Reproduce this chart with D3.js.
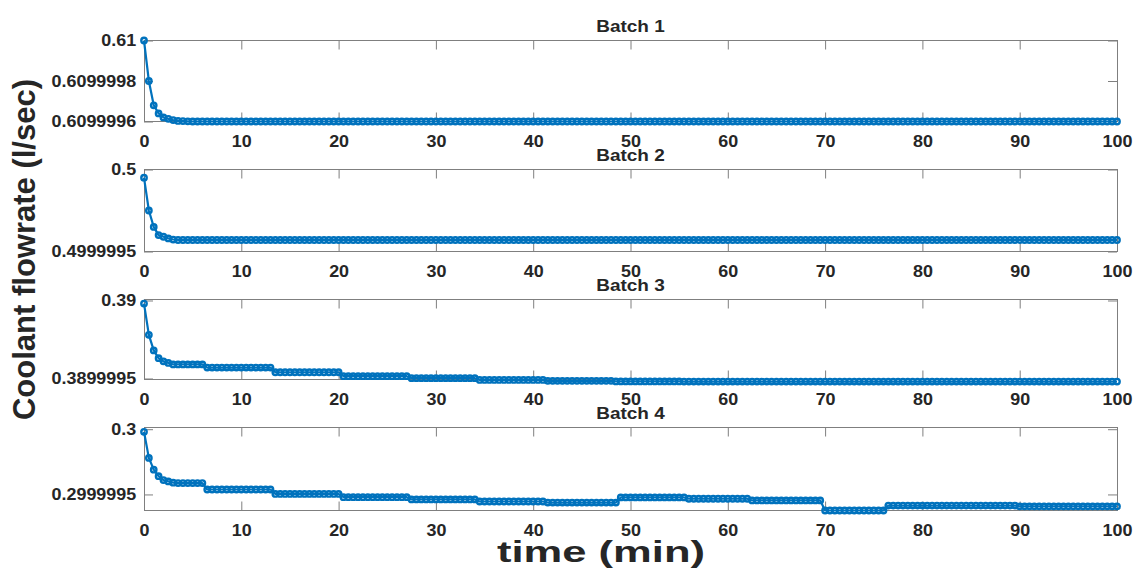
<!DOCTYPE html>
<html><head><meta charset="utf-8">
<script src="https://cdn.jsdelivr.net/npm/d3@7"></script>
<style>
body{margin:0;background:#fff}
svg{display:block}
text{font-family:"Liberation Sans",Arial,sans-serif;font-weight:bold;fill:#262626}
</style>
</head><body>
<svg id="chart" width="1133" height="570"></svg>
<script>
// ---------------- data ----------------
const titles = ["Batch 1", "Batch 2", "Batch 3", "Batch 4"];
const xLabel = "time (min)";
const yLabel = "Coolant flowrate (l/sec)";
const xTicks = [0, 10, 20, 30, 40, 50, 60, 70, 80, 90, 100];
const xTickLabels = ["0", "10", "20", "30", "40", "50", "60", "70", "80", "90", "100"];
const yTicks1 = [0.6099996, 0.6099998, 0.61];
const yTickLabels1 = ["0.6099996", "0.6099998", "0.61"];
const yTicks2 = [0.4999995, 0.5];
const yTickLabels2 = ["0.4999995", "0.5"];
const yTicks3 = [0.3899995, 0.39];
const yTickLabels3 = ["0.3899995", "0.39"];
const yTicks4 = [0.2999995, 0.3];
const yTickLabels4 = ["0.2999995", "0.3"];
const yLimits1 = [0.6099996, 0.61];
const yLimits2 = [0.4999995, 0.5];
const yLimits3 = [0.3899994936, 0.3900000064];
const yLimits4 = [0.2999993769, 0.3000000131];

// sampling times: every 0.5 min from 0 to 100
const times = d3.range(0, 100.25, 0.5);

const batch1 = [
0.61,0.6099998,0.60999968,0.60999964,0.60999962,0.609999613,0.609999607,0.609999603,0.609999602,0.609999601,
0.6099996,0.6099996,0.6099996,0.6099996,0.6099996,0.6099996,0.6099996,0.6099996,0.6099996,0.6099996,
0.6099996,0.6099996,0.6099996,0.6099996,0.6099996,0.6099996,0.6099996,0.6099996,0.6099996,0.6099996,
0.6099996,0.6099996,0.6099996,0.6099996,0.6099996,0.6099996,0.6099996,0.6099996,0.6099996,0.6099996,
0.6099996,0.6099996,0.6099996,0.6099996,0.6099996,0.6099996,0.6099996,0.6099996,0.6099996,0.6099996,
0.6099996,0.6099996,0.6099996,0.6099996,0.6099996,0.6099996,0.6099996,0.6099996,0.6099996,0.6099996,
0.6099996,0.6099996,0.6099996,0.6099996,0.6099996,0.6099996,0.6099996,0.6099996,0.6099996,0.6099996,
0.6099996,0.6099996,0.6099996,0.6099996,0.6099996,0.6099996,0.6099996,0.6099996,0.6099996,0.6099996,
0.6099996,0.6099996,0.6099996,0.6099996,0.6099996,0.6099996,0.6099996,0.6099996,0.6099996,0.6099996,
0.6099996,0.6099996,0.6099996,0.6099996,0.6099996,0.6099996,0.6099996,0.6099996,0.6099996,0.6099996,
0.6099996,0.6099996,0.6099996,0.6099996,0.6099996,0.6099996,0.6099996,0.6099996,0.6099996,0.6099996,
0.6099996,0.6099996,0.6099996,0.6099996,0.6099996,0.6099996,0.6099996,0.6099996,0.6099996,0.6099996,
0.6099996,0.6099996,0.6099996,0.6099996,0.6099996,0.6099996,0.6099996,0.6099996,0.6099996,0.6099996,
0.6099996,0.6099996,0.6099996,0.6099996,0.6099996,0.6099996,0.6099996,0.6099996,0.6099996,0.6099996,
0.6099996,0.6099996,0.6099996,0.6099996,0.6099996,0.6099996,0.6099996,0.6099996,0.6099996,0.6099996,
0.6099996,0.6099996,0.6099996,0.6099996,0.6099996,0.6099996,0.6099996,0.6099996,0.6099996,0.6099996,
0.6099996,0.6099996,0.6099996,0.6099996,0.6099996,0.6099996,0.6099996,0.6099996,0.6099996,0.6099996,
0.6099996,0.6099996,0.6099996,0.6099996,0.6099996,0.6099996,0.6099996,0.6099996,0.6099996,0.6099996,
0.6099996,0.6099996,0.6099996,0.6099996,0.6099996,0.6099996,0.6099996,0.6099996,0.6099996,0.6099996,
0.6099996,0.6099996,0.6099996,0.6099996,0.6099996,0.6099996,0.6099996,0.6099996,0.6099996,0.6099996,
0.6099996
];

const batch2 = [
0.49999995,0.49999975,0.49999965,0.4999996,0.49999959,0.49999958,0.499999573,0.49999957,0.49999957,0.49999957,
0.49999957,0.49999957,0.49999957,0.49999957,0.49999957,0.49999957,0.49999957,0.49999957,0.49999957,0.49999957,
0.49999957,0.49999957,0.49999957,0.49999957,0.49999957,0.49999957,0.49999957,0.49999957,0.49999957,0.49999957,
0.49999957,0.49999957,0.49999957,0.49999957,0.49999957,0.49999957,0.49999957,0.49999957,0.49999957,0.49999957,
0.49999957,0.49999957,0.49999957,0.49999957,0.49999957,0.49999957,0.49999957,0.49999957,0.49999957,0.49999957,
0.49999957,0.49999957,0.49999957,0.49999957,0.49999957,0.49999957,0.49999957,0.49999957,0.49999957,0.49999957,
0.49999957,0.49999957,0.49999957,0.49999957,0.49999957,0.49999957,0.49999957,0.49999957,0.49999957,0.49999957,
0.49999957,0.49999957,0.49999957,0.49999957,0.49999957,0.49999957,0.49999957,0.49999957,0.49999957,0.49999957,
0.49999957,0.49999957,0.49999957,0.49999957,0.49999957,0.49999957,0.49999957,0.49999957,0.49999957,0.49999957,
0.49999957,0.49999957,0.49999957,0.49999957,0.49999957,0.49999957,0.49999957,0.49999957,0.49999957,0.49999957,
0.49999957,0.49999957,0.49999957,0.49999957,0.49999957,0.49999957,0.49999957,0.49999957,0.49999957,0.49999957,
0.49999957,0.49999957,0.49999957,0.49999957,0.49999957,0.49999957,0.49999957,0.49999957,0.49999957,0.49999957,
0.49999957,0.49999957,0.49999957,0.49999957,0.49999957,0.49999957,0.49999957,0.49999957,0.49999957,0.49999957,
0.49999957,0.49999957,0.49999957,0.49999957,0.49999957,0.49999957,0.49999957,0.49999957,0.49999957,0.49999957,
0.49999957,0.49999957,0.49999957,0.49999957,0.49999957,0.49999957,0.49999957,0.49999957,0.49999957,0.49999957,
0.49999957,0.49999957,0.49999957,0.49999957,0.49999957,0.49999957,0.49999957,0.49999957,0.49999957,0.49999957,
0.49999957,0.49999957,0.49999957,0.49999957,0.49999957,0.49999957,0.49999957,0.49999957,0.49999957,0.49999957,
0.49999957,0.49999957,0.49999957,0.49999957,0.49999957,0.49999957,0.49999957,0.49999957,0.49999957,0.49999957,
0.49999957,0.49999957,0.49999957,0.49999957,0.49999957,0.49999957,0.49999957,0.49999957,0.49999957,0.49999957,
0.49999957,0.49999957,0.49999957,0.49999957,0.49999957,0.49999957,0.49999957,0.49999957,0.49999957,0.49999957,
0.49999957
];

const batch3 = [
0.38999998,0.38999978,0.38999968,0.38999963,0.38999961,0.3899996,0.38999959,0.38999959,0.38999959,0.38999959,
0.38999959,0.38999959,0.38999959,0.38999957,0.38999957,0.38999957,0.38999957,0.38999957,0.38999957,0.38999957,
0.38999957,0.38999957,0.38999957,0.38999957,0.38999957,0.38999957,0.38999957,0.38999954,0.38999954,0.38999954,
0.38999954,0.38999954,0.38999954,0.38999954,0.38999954,0.38999954,0.38999954,0.38999954,0.38999954,0.38999954,
0.38999954,0.389999515,0.389999515,0.389999515,0.389999515,0.389999515,0.389999515,0.389999515,0.389999515,0.389999515,
0.389999515,0.389999515,0.389999515,0.389999515,0.389999515,0.389999502,0.389999502,0.389999502,0.389999502,0.389999502,
0.389999502,0.389999502,0.389999502,0.389999502,0.389999502,0.389999502,0.389999502,0.389999502,0.389999502,0.389999491,
0.389999491,0.389999491,0.389999491,0.389999491,0.389999491,0.389999491,0.389999491,0.389999491,0.389999491,0.389999491,
0.389999491,0.389999491,0.389999491,0.389999485,0.389999485,0.389999485,0.389999485,0.389999485,0.389999485,0.389999485,
0.389999485,0.389999485,0.389999485,0.389999485,0.389999485,0.389999485,0.389999485,0.389999481,0.389999481,0.389999481,
0.389999481,0.389999481,0.389999481,0.389999481,0.389999481,0.389999481,0.389999481,0.389999481,0.389999481,0.389999481,
0.389999481,0.38999948,0.38999948,0.38999948,0.38999948,0.38999948,0.38999948,0.38999948,0.38999948,0.38999948,
0.38999948,0.38999948,0.38999948,0.38999948,0.38999948,0.38999948,0.38999948,0.38999948,0.38999948,0.38999948,
0.38999948,0.38999948,0.38999948,0.38999948,0.38999948,0.38999948,0.38999948,0.38999948,0.38999948,0.38999948,
0.38999948,0.38999948,0.38999948,0.38999948,0.38999948,0.38999948,0.38999948,0.38999948,0.38999948,0.38999948,
0.38999948,0.38999948,0.38999948,0.38999948,0.38999948,0.38999948,0.38999948,0.38999948,0.38999948,0.38999948,
0.38999948,0.38999948,0.38999948,0.38999948,0.38999948,0.38999948,0.38999948,0.38999948,0.38999948,0.38999948,
0.38999948,0.38999948,0.38999948,0.38999948,0.38999948,0.38999948,0.38999948,0.38999948,0.38999948,0.38999948,
0.38999948,0.38999948,0.38999948,0.38999948,0.38999948,0.38999948,0.38999948,0.38999948,0.38999948,0.38999948,
0.38999948,0.38999948,0.38999948,0.38999948,0.38999948,0.38999948,0.38999948,0.38999948,0.38999948,0.38999948,
0.38999948
];

const batch4 = [
0.29999998,0.29999978,0.29999969,0.29999964,0.29999961,0.2999996,0.29999959,0.299999587,0.299999587,0.299999587,
0.299999587,0.299999587,0.299999587,0.299999538,0.299999538,0.299999538,0.299999538,0.299999538,0.299999538,0.299999538,
0.299999538,0.299999538,0.299999538,0.299999538,0.299999538,0.299999538,0.299999538,0.299999504,0.299999504,0.299999504,
0.299999504,0.299999504,0.299999504,0.299999504,0.299999504,0.299999504,0.299999504,0.299999504,0.299999504,0.299999504,
0.299999504,0.299999479,0.299999479,0.299999479,0.299999479,0.299999479,0.299999479,0.299999479,0.299999479,0.299999479,
0.299999479,0.299999479,0.299999479,0.299999479,0.299999479,0.299999462,0.299999462,0.299999462,0.299999462,0.299999462,
0.299999462,0.299999462,0.299999462,0.299999462,0.299999462,0.299999462,0.299999462,0.299999462,0.299999462,0.299999446,
0.299999446,0.299999446,0.299999446,0.299999446,0.299999446,0.299999446,0.299999446,0.299999446,0.299999446,0.299999446,
0.299999446,0.299999446,0.299999446,0.299999438,0.299999438,0.299999438,0.299999438,0.299999438,0.299999438,0.299999438,
0.299999438,0.299999438,0.299999438,0.299999438,0.299999438,0.299999438,0.299999438,0.299999438,0.299999477,0.299999477,
0.299999477,0.299999477,0.299999477,0.299999477,0.299999477,0.299999477,0.299999477,0.299999477,0.299999477,0.299999477,
0.299999477,0.299999477,0.299999467,0.299999467,0.299999467,0.299999467,0.299999467,0.299999467,0.299999467,0.299999467,
0.299999467,0.299999467,0.299999467,0.299999467,0.299999467,0.299999454,0.299999454,0.299999454,0.299999454,0.299999454,
0.299999454,0.299999454,0.299999454,0.299999454,0.299999454,0.299999454,0.299999454,0.299999454,0.299999454,0.299999454,
0.299999377,0.299999377,0.299999377,0.299999377,0.299999377,0.299999377,0.299999377,0.299999377,0.299999377,0.299999377,
0.299999377,0.299999377,0.299999377,0.299999415,0.299999415,0.299999415,0.299999415,0.299999415,0.299999415,0.299999415,
0.299999415,0.299999415,0.299999415,0.299999415,0.299999415,0.299999415,0.299999415,0.299999415,0.299999415,0.299999415,
0.299999415,0.299999415,0.299999415,0.299999415,0.299999415,0.299999415,0.299999415,0.299999415,0.299999415,0.299999415,
0.299999408,0.299999408,0.299999408,0.299999408,0.299999408,0.299999408,0.299999408,0.299999408,0.299999408,0.299999408,
0.299999408,0.299999408,0.299999408,0.299999408,0.299999408,0.299999408,0.299999408,0.299999408,0.299999408,0.299999408,
0.299999408
];

// ---------------- layout ----------------
const W = 1133, H = 570;
const plotLeft = 144, plotRight = 1117;
const panelTops = [40.5, 169.5, 299.5, 427.5];
const panelBottoms = [121.5, 251.5, 379.5, 510.5];
const lineColor = "#0072BD";
const axisColor = "#7f7f7f";
const textColor = "#262626";

const panels = [
  {title: titles[0], data: batch1, ticks: yTicks1, labels: yTickLabels1, lim: yLimits1},
  {title: titles[1], data: batch2, ticks: yTicks2, labels: yTickLabels2, lim: yLimits2},
  {title: titles[2], data: batch3, ticks: yTicks3, labels: yTickLabels3, lim: yLimits3},
  {title: titles[3], data: batch4, ticks: yTicks4, labels: yTickLabels4, lim: yLimits4}
];

const svg = d3.select("#chart");
svg.append("rect").attr("width", W).attr("height", H).attr("fill", "#fff");

const x = d3.scaleLinear().domain([0, 100]).range([plotLeft, plotRight]);
const tickScale = 1.12;

panels.forEach((p, i) => {
  const top = panelTops[i], bottom = panelBottoms[i];
  const y = d3.scaleLinear().domain(p.lim).range([bottom, top]);
  const g = svg.append("g");

  // bottom axis with labels
  const gb = g.append("g").attr("transform", `translate(0,${bottom})`)
    .call(d3.axisBottom(x).tickValues(xTicks).tickFormat((d, k) => xTickLabels[k])
      .tickSize(-9).tickPadding(14));
  // top ticks
  const gt = g.append("g").attr("transform", `translate(0,${top})`)
    .call(d3.axisTop(x).tickValues(xTicks).tickFormat("").tickSize(-9));
  // left axis with labels
  const gl = g.append("g").attr("transform", `translate(${plotLeft},0)`)
    .call(d3.axisLeft(y).tickValues(p.ticks).tickFormat((d, k) => p.labels[k])
      .tickSize(-9).tickPadding(7));
  // right ticks
  const gr = g.append("g").attr("transform", `translate(${plotRight},0)`)
    .call(d3.axisRight(y).tickValues(p.ticks).tickFormat("").tickSize(-9));

  [gb, gt, gl, gr].forEach(a => {
    a.select(".domain").remove();
    a.selectAll(".tick line").attr("stroke", axisColor).attr("stroke-width", 1);
    a.selectAll(".tick text")
      .attr("font-family", '"Liberation Sans", Arial, sans-serif')
      .attr("font-weight", "bold").attr("font-size", 16).attr("fill", textColor)
      .attr("transform", `scale(${tickScale},1)`);
  });

  // box
  g.append("rect")
    .attr("x", plotLeft + 0.5).attr("y", top)
    .attr("width", plotRight - plotLeft).attr("height", bottom - top)
    .attr("fill", "none").attr("stroke", axisColor).attr("stroke-width", 1);

  // title
  g.append("g").attr("transform", `translate(${(plotLeft + plotRight) / 2},${top - 9}) scale(1.15,1)`)
    .append("text").attr("text-anchor", "middle").attr("font-size", 16.5).text(p.title);

  const pts = times.map((t, k) => [t, p.data[k]]);
  const line = d3.line().x(d => x(d[0])).y(d => y(d[1]));
  g.append("path").datum(pts).attr("d", line)
    .attr("fill", "none").attr("stroke", lineColor).attr("stroke-width", 2.2)
    .attr("stroke-linejoin", "round");
  g.append("g").selectAll("circle").data(pts).join("circle")
    .attr("cx", d => x(d[0])).attr("cy", d => y(d[1])).attr("r", 2.7)
    .attr("fill", "none").attr("stroke", lineColor).attr("stroke-width", 2.4);
});

// axis labels
svg.append("text")
  .attr("x", 601).attr("y", 562).attr("text-anchor", "middle")
  .attr("font-size", 29).attr("textLength", 208).attr("lengthAdjust", "spacingAndGlyphs")
  .text(xLabel);

svg.append("text")
  .attr("transform", `translate(35,${(78 + 421) / 2}) rotate(-90)`)
  .attr("text-anchor", "middle").attr("font-size", 31)
  .text(yLabel);
</script>
</body></html>
